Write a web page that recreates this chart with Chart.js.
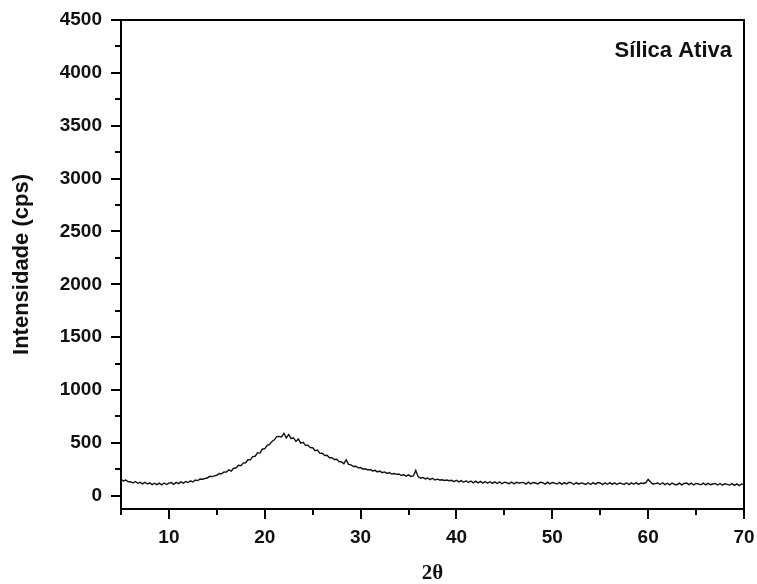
<!DOCTYPE html>
<html>
<head>
<meta charset="utf-8">
<script src="https://cdn.jsdelivr.net/npm/chart.js@4.4.0/dist/chart.umd.min.js"></script>
<style>
  html, body { margin: 0; padding: 0; background: #fff; }
  #wrap { width: 757px; height: 584px; }
</style>
</head>
<body>
<div id="wrap"><canvas id="xrd-chart"></canvas></div>
<script>
const canvasElement = document.getElementById("xrd-chart");

// 2theta positions of the scan (degrees)
const twoTheta = [
  5.00, 5.25, 5.50, 5.75, 6.00, 6.25, 6.50, 6.75, 7.00, 7.25, 7.50, 7.75,
  8.00, 8.25, 8.50, 8.75, 9.00, 9.25, 9.50, 9.75, 10.00, 10.25, 10.50, 10.75,
  11.00, 11.25, 11.50, 11.75, 12.00, 12.25, 12.50, 12.75, 13.00, 13.25, 13.50, 13.75,
  14.00, 14.25, 14.50, 14.75, 15.00, 15.25, 15.50, 15.75, 16.00, 16.25, 16.50, 16.75,
  17.00, 17.25, 17.50, 17.75, 18.00, 18.25, 18.50, 18.75, 19.00, 19.25, 19.50, 19.75,
  20.00, 20.25, 20.50, 20.75, 21.00, 21.25, 21.50, 21.75, 22.00, 22.25, 22.50, 22.75,
  23.00, 23.25, 23.50, 23.75, 24.00, 24.25, 24.50, 24.75, 25.00, 25.25, 25.50, 25.75,
  26.00, 26.25, 26.50, 26.75, 27.00, 27.25, 27.50, 27.75, 28.00, 28.25, 28.50, 28.75,
  29.00, 29.25, 29.50, 29.75, 30.00, 30.25, 30.50, 30.75, 31.00, 31.25, 31.50, 31.75,
  32.00, 32.25, 32.50, 32.75, 33.00, 33.25, 33.50, 33.75, 34.00, 34.25, 34.50, 34.75,
  35.00, 35.25, 35.50, 35.75, 36.00, 36.25, 36.50, 36.75, 37.00, 37.25, 37.50, 37.75,
  38.00, 38.25, 38.50, 38.75, 39.00, 39.25, 39.50, 39.75, 40.00, 40.25, 40.50, 40.75,
  41.00, 41.25, 41.50, 41.75, 42.00, 42.25, 42.50, 42.75, 43.00, 43.25, 43.50, 43.75,
  44.00, 44.25, 44.50, 44.75, 45.00, 45.25, 45.50, 45.75, 46.00, 46.25, 46.50, 46.75,
  47.00, 47.25, 47.50, 47.75, 48.00, 48.25, 48.50, 48.75, 49.00, 49.25, 49.50, 49.75,
  50.00, 50.25, 50.50, 50.75, 51.00, 51.25, 51.50, 51.75, 52.00, 52.25, 52.50, 52.75,
  53.00, 53.25, 53.50, 53.75, 54.00, 54.25, 54.50, 54.75, 55.00, 55.25, 55.50, 55.75,
  56.00, 56.25, 56.50, 56.75, 57.00, 57.25, 57.50, 57.75, 58.00, 58.25, 58.50, 58.75,
  59.00, 59.25, 59.50, 59.75, 60.00, 60.25, 60.50, 60.75, 61.00, 61.25, 61.50, 61.75,
  62.00, 62.25, 62.50, 62.75, 63.00, 63.25, 63.50, 63.75, 64.00, 64.25, 64.50, 64.75,
  65.00, 65.25, 65.50, 65.75, 66.00, 66.25, 66.50, 66.75, 67.00, 67.25, 67.50, 67.75,
  68.00, 68.25, 68.50, 68.75, 69.00, 69.25, 69.50, 69.75, 70.00
];

// intensity (cps), one value per 2theta above
const intensity = [
  156, 140, 149, 133, 134, 121, 135, 118, 127, 113, 128, 111,
  122, 106, 119, 105, 119, 104, 121, 107, 120, 125, 109, 127,
  115, 131, 119, 135, 125, 141, 130, 149, 144, 158, 157, 163,
  168, 184, 181, 188, 194, 211, 208, 226, 224, 246, 233, 261,
  263, 288, 285, 309, 312, 341, 340, 370, 374, 408, 404, 443,
  444, 478, 485, 514, 529, 560, 562, 556, 591, 548, 580, 540,
  549, 514, 538, 498, 505, 477, 478, 455, 454, 426, 432, 401,
  402, 381, 384, 360, 361, 343, 346, 324, 320, 304, 340, 297,
  292, 277, 279, 264, 267, 251, 256, 244, 249, 235, 241, 226,
  234, 219, 226, 212, 219, 206, 211, 203, 206, 192, 200, 185,
  198, 183, 188, 240, 181, 167, 173, 160, 168, 153, 166, 149,
  157, 150, 152, 145, 149, 142, 146, 134, 147, 131, 144, 128,
  142, 126, 140, 123, 138, 122, 136, 120, 135, 119, 133, 117,
  132, 116, 131, 114, 129, 123, 115, 130, 113, 128, 121, 124,
  127, 111, 129, 113, 126, 121, 112, 128, 124, 110, 129, 113,
  126, 120, 111, 127, 109, 125, 112, 128, 123, 107, 124, 110,
  122, 116, 108, 123, 107, 124, 110, 125, 121, 106, 123, 109,
  124, 108, 122, 107, 121, 115, 108, 123, 106, 122, 109, 124,
  108, 121, 116, 123, 155, 131, 109, 115, 121, 107, 123, 106,
  119, 104, 121, 107, 105, 120, 103, 118, 121, 105, 119, 102,
  117, 112, 104, 119, 103, 118, 105, 111, 117, 102, 116, 100,
  114, 108, 101, 115, 99, 113, 97, 112, 104
];

const xMajorTicks = [10, 20, 30, 40, 50, 60, 70];
const xMinorTicks = [5, 15, 25, 35, 45, 55, 65];
const yMajorTicks = [0, 500, 1000, 1500, 2000, 2500, 3000, 3500, 4000, 4500];
const yMinorTicks = [250, 750, 1250, 1750, 2250, 2750, 3250, 3750, 4250];

const sampleLabel = "Sílica Ativa";

const points = twoTheta.map((t, i) => ({x: t, y: intensity[i]}));

// frame, outward ticks and the sample name (Origin style)
const originFrame = {
    id: "originFrame",
    afterDraw(chart) {
        const {ctx, chartArea: a, scales: {x, y}} = chart;
        ctx.save();
        ctx.strokeStyle = "#000";
        ctx.lineWidth = 2;
        ctx.strokeRect(a.left, a.top, a.right - a.left, a.bottom - a.top);

        ctx.beginPath();
        xMajorTicks.forEach(v => {
            const px = Math.round(x.getPixelForValue(v));
            ctx.moveTo(px, a.bottom); ctx.lineTo(px, a.bottom + 10);
        });
        xMinorTicks.forEach(v => {
            const px = Math.round(x.getPixelForValue(v));
            ctx.moveTo(px, a.bottom); ctx.lineTo(px, a.bottom + 6);
        });
        yMajorTicks.forEach(v => {
            const py = Math.round(y.getPixelForValue(v));
            ctx.moveTo(a.left, py); ctx.lineTo(a.left - 10, py);
        });
        yMinorTicks.forEach(v => {
            const py = Math.round(y.getPixelForValue(v));
            ctx.moveTo(a.left, py); ctx.lineTo(a.left - 6, py);
        });
        ctx.stroke();

        ctx.fillStyle = "#111";
        ctx.font = "bold 22px 'Liberation Sans', Arial, sans-serif";
        ctx.textAlign = "right";
        ctx.textBaseline = "alphabetic";
        ctx.fillText(sampleLabel, a.right - 12, a.top + 37);
        ctx.restore();
    }
};

const config = {
    type: "line",
    data: {
        datasets: [{
            label: sampleLabel,
            data: points,
            borderColor: "#111",
            borderWidth: 1.4,
            pointRadius: 0,
            tension: 0,
            fill: false
        }]
    },
    options: {
        responsive: true,
        maintainAspectRatio: false,
        animation: false,
        events: [],
        layout: {padding: {top: 20, right: 13, left: 0, bottom: 0}},
        plugins: {
            legend: {display: false},
            tooltip: {enabled: false}
        },
        scales: {
            x: {
                type: "linear",
                min: 5,
                max: 70,
                afterBuildTicks: scale => { scale.ticks = xMajorTicks.map(v => ({value: v})); },
                afterFit: scale => {
                    scale.height = 75;
                    scale.paddingLeft = 0;
                    scale.paddingRight = 0;
                },
                grid: {display: false, drawTicks: false},
                border: {display: false},
                ticks: {
                    color: "#111",
                    padding: 17,
                    maxRotation: 0,
                    autoSkip: false,
                    font: {family: "'Liberation Sans', Arial, sans-serif", size: 19, weight: "bold"},
                    callback: v => String(v)
                },
                title: {
                    display: true,
                    text: "2θ",
                    color: "#111",
                    padding: {top: 0, bottom: 0},
                    font: {family: "'Liberation Serif', 'Times New Roman', serif", size: 21, weight: "bold", lineHeight: 1}
                }
            },
            y: {
                type: "linear",
                min: -125,
                max: 4500,
                afterBuildTicks: scale => { scale.ticks = yMajorTicks.map(v => ({value: v})); },
                afterFit: scale => {
                    scale.width = 121;
                    scale.paddingTop = 0;
                    scale.paddingBottom = 0;
                },
                grid: {display: false, drawTicks: false},
                border: {display: false},
                ticks: {
                    color: "#111",
                    padding: 19,
                    autoSkip: false,
                    font: {family: "'Liberation Sans', Arial, sans-serif", size: 19, weight: "bold"},
                    callback: v => String(v)
                },
                title: {
                    display: true,
                    text: "Intensidade (cps)",
                    color: "#111",
                    padding: {top: 9, bottom: 0},
                    font: {family: "'Liberation Sans', Arial, sans-serif", size: 22, weight: "bold", lineHeight: 1.2}
                }
            }
        }
    },
    plugins: [originFrame]
};

const xrdChart = new Chart(canvasElement, config);
</script>
</body>
</html>
